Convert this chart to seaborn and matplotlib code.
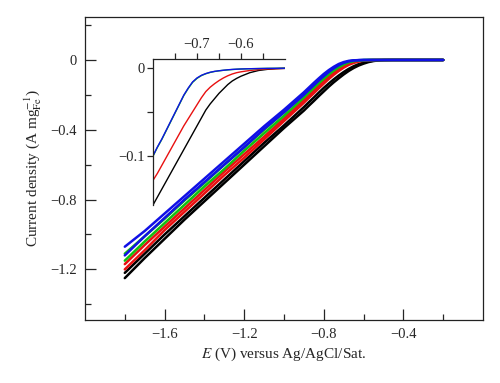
#!/usr/bin/env python3
# -*- coding: utf-8 -*-
"""
Courbes de polarisation (LSV) avec encart
"""

import matplotlib
matplotlib.use('Agg')
import matplotlib.pyplot as plt
import seaborn as sns
import pandas as pd

# Potentiels (V vs Ag/AgCl/Sat.)
E_main = [-1.8, -1.7, -1.6, -1.5, -1.4, -1.3, -1.2, -1.1, -1.0, -0.9, -0.875, -0.85,
          -0.825, -0.8, -0.775, -0.75, -0.725, -0.7, -0.675, -0.65, -0.625, -0.6,
          -0.575, -0.55, -0.525, -0.5, -0.45, -0.2]

# Densité de courant, deux balayages par échantillon
blue_a = [-1.07, -0.98, -0.88, -0.78, -0.68, -0.58, -0.48, -0.38, -0.285, -0.185, -0.158, -0.131,
          -0.105, -0.080, -0.058, -0.039, -0.023, -0.012, -0.005, -0.002, -0.0008, 0,
          0, 0, 0, 0, 0, 0]
blue_b = [-1.12, -1.01, -0.905, -0.80, -0.70, -0.60, -0.50, -0.395, -0.30, -0.20, -0.172, -0.145,
          -0.118, -0.093, -0.069, -0.048, -0.030, -0.017, -0.008, -0.003, -0.001, 0,
          0, 0, 0, 0, 0, 0]
green_a = [-1.11, -1.01, -0.91, -0.805, -0.705, -0.60, -0.50, -0.40, -0.30, -0.195, -0.167, -0.14,
           -0.114, -0.09, -0.068, -0.048, -0.031, -0.018, -0.009, -0.004, -0.0015, -0.0005,
           0, 0, 0, 0, 0, 0]
green_b = [-1.15, -1.04, -0.935, -0.83, -0.725, -0.625, -0.52, -0.42, -0.32, -0.215, -0.187, -0.16,
           -0.133, -0.107, -0.083, -0.061, -0.042, -0.026, -0.014, -0.007, -0.003, -0.001,
           0, 0, 0, 0, 0, 0]
red_a = [-1.17, -1.06, -0.955, -0.85, -0.745, -0.64, -0.54, -0.44, -0.335, -0.23, -0.202, -0.175,
         -0.147, -0.12, -0.095, -0.072, -0.052, -0.035, -0.021, -0.012, -0.006, -0.003,
         -0.001, 0, 0, 0, 0, 0]
red_b = [-1.20, -1.09, -0.975, -0.87, -0.765, -0.66, -0.56, -0.455, -0.35, -0.245, -0.217, -0.19,
         -0.162, -0.135, -0.109, -0.085, -0.063, -0.044, -0.028, -0.017, -0.009, -0.004,
         -0.0015, -0.0005, 0, 0, 0, 0]
black_a = [-1.22, -1.11, -1.0, -0.895, -0.79, -0.685, -0.58, -0.475, -0.375, -0.27, -0.242, -0.215,
           -0.187, -0.16, -0.135, -0.111, -0.089, -0.069, -0.051, -0.036, -0.024, -0.015,
           -0.008, -0.004, -0.0015, -0.0005, 0, 0]
black_b = [-1.25, -1.135, -1.025, -0.915, -0.81, -0.705, -0.60, -0.495, -0.39, -0.29, -0.262, -0.235,
           -0.207, -0.18, -0.153, -0.128, -0.105, -0.083, -0.063, -0.046, -0.032, -0.021,
           -0.012, -0.006, -0.0025, -0.001, 0, 0]

# Encart : premier balayage, zone -0.8 à -0.5 V
E_inset = [-0.80, -0.79, -0.78, -0.77, -0.76, -0.75, -0.74, -0.73, -0.72, -0.71, -0.70,
           -0.69, -0.68, -0.67, -0.66, -0.65, -0.64, -0.63, -0.62, -0.61, -0.60,
           -0.58, -0.56, -0.54, -0.52, -0.50]
inset_blue = [-0.100, -0.090, -0.081, -0.071, -0.061, -0.051, -0.041, -0.031, -0.023, -0.016, -0.0115,
              -0.0085, -0.0065, -0.005, -0.004, -0.0033, -0.0027, -0.0022, -0.0018, -0.0015, -0.0013,
              -0.001, -0.0008, -0.0006, -0.0005, -0.0004]
inset_green = [-0.1005, -0.0905, -0.0815, -0.0715, -0.0615, -0.0515, -0.0415, -0.0315, -0.0235, -0.0165, -0.012,
               -0.0088, -0.0067, -0.0052, -0.0041, -0.0034, -0.0028, -0.0023, -0.0019, -0.0016, -0.0013,
               -0.001, -0.0008, -0.0006, -0.0005, -0.0004]
inset_red = [-0.128, -0.120, -0.111, -0.102, -0.093, -0.084, -0.075, -0.066, -0.058, -0.050, -0.042,
             -0.034, -0.027, -0.022, -0.018, -0.0145, -0.0115, -0.009, -0.007, -0.0055, -0.0045,
             -0.003, -0.002, -0.0013, -0.0009, -0.0006]
inset_black = [-0.156, -0.147, -0.138, -0.129, -0.120, -0.111, -0.102, -0.093, -0.084, -0.075, -0.066,
               -0.057, -0.048, -0.041, -0.035, -0.029, -0.024, -0.019, -0.015, -0.012, -0.0095,
               -0.0055, -0.003, -0.0017, -0.001, -0.0006]

xticks_major = [-1.6, -1.2, -0.8, -0.4]
xticks_minor = [-1.8, -1.4, -1.0, -0.6, -0.2]
xtick_labels = ['\u22121.6', '\u22121.2', '\u22120.8', '\u22120.4']
yticks_major = [0, -0.4, -0.8, -1.2]
yticks_minor = [0.2, -0.2, -0.6, -1.0, -1.4]
ytick_labels = ['0', '\u22120.4', '\u22120.8', '\u22121.2']

inset_xticks = [-0.7, -0.6]
inset_xticks_minor = [-0.75, -0.65, -0.55]
inset_xtick_labels = ['\u22120.7', '\u22120.6']
inset_yticks = [0, -0.1]
inset_yticks_minor = [-0.05]
inset_ytick_labels = ['0', '\u22120.1']

BLUE = '#1010e6'
GREEN = '#10c010'
RED = '#e81010'
BLACK = '#000000'

sns.set_style('ticks')
plt.rcParams['font.family'] = ['Liberation Serif', 'DejaVu Serif']
plt.rcParams['mathtext.fontset'] = 'stix'
plt.rcParams['axes.edgecolor'] = '#222222'
plt.rcParams['axes.linewidth'] = 0.9

fig = plt.figure(figsize=(5, 3.83), dpi=100)
ax = fig.add_axes([0.17, 0.1645, 0.796, 0.791])

df_main = pd.DataFrame({'E': E_main})
traces = [(black_a, BLACK), (black_b, BLACK), (red_a, RED), (red_b, RED),
          (green_a, GREEN), (green_b, GREEN), (blue_b, BLUE), (blue_a, BLUE)]
for vals, col in traces:
    df_main['j'] = vals
    sns.lineplot(data=df_main, x='E', y='j', color=col, lw=1.8, sort=False, ax=ax)

ax.set_xlim(-2.0, 0.0)
ax.set_ylim(-1.49, 0.246)
ax.set_xticks(xticks_major)
ax.set_xticklabels(xtick_labels)
ax.set_xticks(xticks_minor, minor=True)
ax.set_yticks(yticks_major)
ax.set_yticklabels(ytick_labels)
ax.set_yticks(yticks_minor, minor=True)
ax.tick_params(which='major', direction='in', length=8, width=0.9, labelsize=10.5, pad=6)
ax.tick_params(which='minor', direction='in', length=4, width=0.9)
ax.set_xlabel(r'$E$ (V) versus Ag/AgCl/Sat.', fontsize=11, labelpad=3)
ax.set_ylabel(r'Current density (A mg$_{\mathrm{Fe}}^{-1}$)', fontsize=11, labelpad=4)

# Encart
axi = fig.add_axes([0.306, 0.4648, 0.264, 0.381])
axi.patch.set_alpha(0)
df_in = pd.DataFrame({'E': E_inset})
for vals, col in [(inset_black, BLACK), (inset_red, RED), (inset_green, GREEN), (inset_blue, BLUE)]:
    df_in['j'] = vals
    sns.lineplot(data=df_in, x='E', y='j', color=col, lw=1.0, sort=False, ax=axi)
axi.set_xlim(-0.8, -0.5)
axi.set_ylim(-0.156, 0.01)
axi.spines['right'].set_visible(False)
axi.spines['bottom'].set_visible(False)
axi.xaxis.tick_top()
axi.set_xticks(inset_xticks)
axi.set_xticklabels(inset_xtick_labels)
axi.set_xticks(inset_xticks_minor, minor=True)
axi.set_yticks(inset_yticks)
axi.set_yticklabels(inset_ytick_labels)
axi.set_yticks(inset_yticks_minor, minor=True)
axi.tick_params(which='both', direction='out', length=4, width=0.9, labelsize=10.5, pad=2)
axi.set_xlabel('')
axi.set_ylabel('')

fig.savefig('out.png', dpi=100)
